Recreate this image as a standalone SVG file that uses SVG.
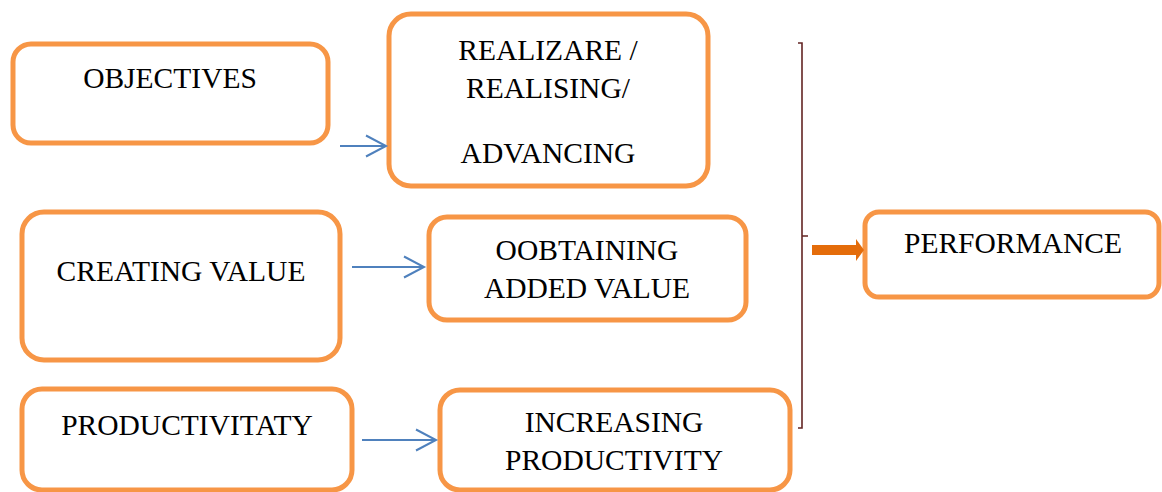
<svg xmlns="http://www.w3.org/2000/svg" width="1162" height="492" viewBox="0 0 1162 492">
<style>
.box{fill:#fff;stroke:#F79646;stroke-width:5}
.t{font-family:"Liberation Serif","Times New Roman",serif;font-size:29.5px;fill:#000;text-anchor:middle}
.c{stroke:#4F81BD;stroke-width:2;fill:none}
</style>
<defs>
<marker id="open" markerUnits="userSpaceOnUse" markerWidth="24" markerHeight="26" refX="21" refY="12" orient="auto">
<path d="M1,1.5 L21,12 L1,22.5" fill="none" stroke="#4F81BD" stroke-width="2"/>
</marker>
</defs>
<rect width="1162" height="492" fill="#fff"/>
<g id="objectives"><rect class="box" x="13" y="44" width="315" height="99" rx="18"/><text class="t" x="170" y="88">OBJECTIVES</text></g>
<g id="realizare"><rect class="box" x="389" y="14" width="319" height="172" rx="22"/><text class="t" x="548" y="60">REALIZARE /</text><text class="t" x="548" y="98">REALISING/</text><text class="t" x="548" y="163">ADVANCING</text></g>
<g id="creating"><rect class="box" x="22" y="212" width="318" height="148" rx="22"/><text class="t" x="181" y="281">CREATING VALUE</text></g>
<g id="obtaining"><rect class="box" x="429" y="217" width="317" height="103" rx="18"/><text class="t" x="587" y="260">OOBTAINING</text><text class="t" x="587" y="298">ADDED VALUE</text></g>
<g id="productivitaty"><rect class="box" x="22" y="389" width="330" height="101" rx="20"/><text class="t" x="187" y="435">PRODUCTIVITATY</text></g>
<g id="increasing"><rect class="box" x="440" y="390" width="350" height="100" rx="20"/><text class="t" x="614" y="432">INCREASING</text><text class="t" x="614" y="470">PRODUCTIVITY</text></g>
<g id="performance"><rect class="box" x="865" y="212" width="294" height="85" rx="14"/><text class="t" x="1013" y="253">PERFORMANCE</text></g>
<g id="connectors">
<line class="c" x1="340" y1="146" x2="386" y2="146" marker-end="url(#open)"/>
<line class="c" x1="352" y1="267" x2="424" y2="267" marker-end="url(#open)"/>
<line class="c" x1="362" y1="440" x2="436" y2="440" marker-end="url(#open)"/>
<path d="M798,43 H802 V428 H798 M802,236 H808" fill="none" stroke="#632523" stroke-width="1.6"/>
<rect x="812" y="245" width="46" height="10" fill="#E46C0A"/>
<path d="M856,239 L864,250 L856,261 Z" fill="#E46C0A"/>
</g>
</svg>
